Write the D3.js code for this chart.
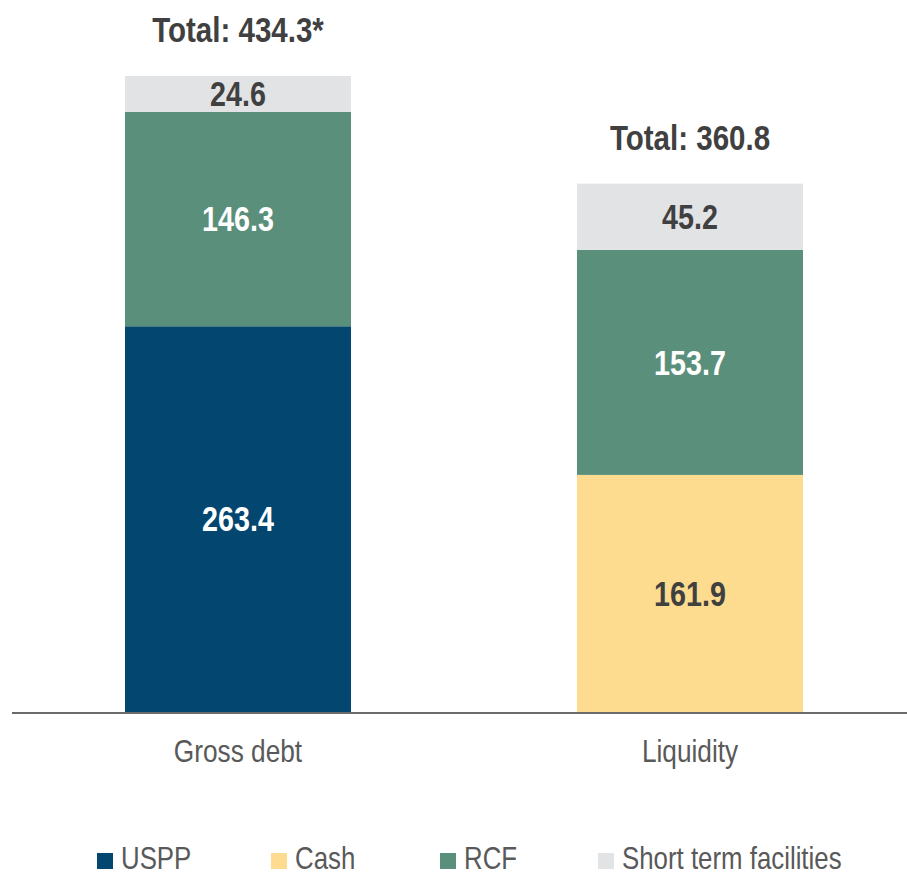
<!DOCTYPE html>
<html>
<head>
<meta charset="utf-8">
<script src="https://cdn.jsdelivr.net/npm/d3@7"></script>
<style>
  body { margin: 0; background: #fff; }
  text { font-family: 'Liberation Sans', Arial, sans-serif; }
</style>
</head>
<body>
<div id="chart"></div>
<script>
// data
const categories = ['Gross debt', 'Liquidity']
const seriesNames = ['USPP', 'Cash', 'RCF', 'Short term facilities']
const uspp = [263.4, 0]
const cash = [0, 161.9]
const rcf = [146.3, 153.7]
const shortTerm = [24.6, 45.2]
const totalLabels = ['Total: 434.3*', 'Total: 360.8']

const width = 907
const height = 875
// the reference uses a narrow face; squeeze Liberation Sans to match
const narrow = 0.82

let svg = d3
  .select('#chart')
  .append('svg')
  .attr('width', width)
  .attr('height', height)

let colorScale = d3.scaleOrdinal()
  .domain(seriesNames)
  .range(['#03466f', '#fddb8f', '#5a8f7b', '#e2e3e5'])

let labelColor = { 'USPP': '#fff', 'Cash': '#404040', 'RCF': '#fff', 'Short term facilities': '#404040' }

let xScale = d3.scaleBand()
  .domain(categories)
  .range([12, 916])
  .paddingInner(0.5)
  .paddingOuter(0.25)

let yScale = d3.scaleLinear().domain([0, 450]).range([712, 53])

let rows = categories.map((c, i) => ({
  category: c,
  'USPP': uspp[i],
  'Cash': cash[i],
  'RCF': rcf[i],
  'Short term facilities': shortTerm[i]
}))

let stacked = d3.stack().keys(seriesNames)(rows)

let layers = svg
  .selectAll('.layer')
  .data(stacked)
  .enter()
  .append('g')
  .attr('class', 'layer')
  .attr('fill', d => colorScale(d.key))

layers
  .selectAll('rect')
  .data(d => d.filter(p => p[1] - p[0] > 0))
  .enter()
  .append('rect')
  .attr('x', d => xScale(d.data.category))
  .attr('width', xScale.bandwidth())
  .attr('y', d => yScale(d[1]))
  .attr('height', d => yScale(d[0]) - yScale(d[1]))

let midX = d => xScale(d.data.category) + xScale.bandwidth() / 2

// value labels inside the segments
stacked.forEach(layer => {
  svg
    .selectAll('.val-' + layer.index)
    .data(layer.filter(p => p[1] - p[0] > 0))
    .enter()
    .append('text')
    .attr('class', 'val-' + layer.index)
    .text(d => (d[1] - d[0]).toFixed(1))
    .attr('transform', d => `translate(${midX(d)},${yScale((d[0] + d[1]) / 2)}) scale(${narrow},1)`)
    .attr('dy', '0.35em')
    .attr('text-anchor', 'middle')
    .attr('font-size', 35)
    .attr('font-weight', 'bold')
    .attr('fill', labelColor[layer.key])
})

// totals
let topLayer = stacked[stacked.length - 1]
svg
  .selectAll('.total')
  .data(topLayer)
  .enter()
  .append('text')
  .attr('class', 'total')
  .text((d, i) => totalLabels[i])
  .attr('transform', d => `translate(${midX(d)},${yScale(d[1]) - 34}) scale(${narrow},1)`)
  .attr('text-anchor', 'middle')
  .attr('font-size', 36)
  .attr('font-weight', 'bold')
  .attr('fill', '#404040')

// baseline
svg.append('line')
  .attr('x1', 12)
  .attr('x2', width)
  .attr('y1', yScale(0) + 1)
  .attr('y2', yScale(0) + 1)
  .attr('stroke', '#6b6b6b')
  .attr('stroke-width', 2)

// category labels
let xAxis = d3.axisBottom(xScale).tickSize(0)
let axisG = svg.append('g')
  .attr('transform', `translate(0,${yScale(0)})`)
  .call(xAxis)
axisG.select('.domain').remove()
axisG.selectAll('text')
  .attr('y', 50)
  .attr('dy', 0)
  .attr('transform', `scale(${narrow},1)`)
  .attr('font-size', 32)
  .attr('font-family', null)
  .attr('fill', '#595959')

// legend
let legendX = [97, 271, 440, 598]
let legend = svg.append('g').attr('transform', 'translate(0, 869)')

legend
  .selectAll('.legend-entry')
  .data(seriesNames)
  .enter()
  .append('g')
  .attr('class', 'legend-entry')
  .attr('transform', (d, i) => `translate(${legendX[i]},0)`)
  .each(function(d) {
    let g = d3.select(this)
    g.append('rect')
      .attr('x', 0)
      .attr('y', -16)
      .attr('width', 16)
      .attr('height', 16)
      .attr('fill', colorScale(d))
    g.append('text')
      .text(d)
      .attr('transform', `translate(24,0) scale(${narrow},1)`)
      .attr('font-size', 31.5)
      .attr('fill', '#595959')
  })
</script>
</body>
</html>
